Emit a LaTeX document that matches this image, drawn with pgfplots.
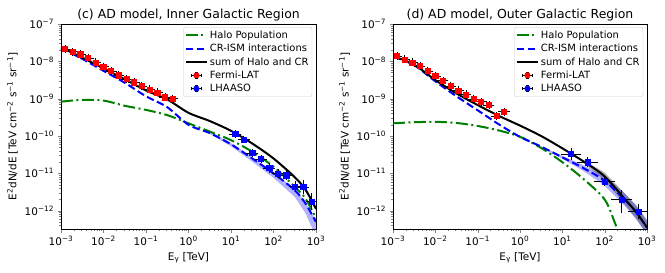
\documentclass[border=0pt]{standalone}
\usepackage{fontspec}
\setmainfont{DejaVu Sans}
\usepackage{pgfplots}
\pgfplotsset{compat=1.18}

\pgfplotstableread{
E F xp xm yp ym
1.230e-3 2.14e-8 0.23 0.19 0.15 0.13
1.866e-3 1.82e-8 0.23 0.19 0.15 0.13
2.831e-3 1.55e-8 0.23 0.19 0.15 0.13
4.295e-3 1.23e-8 0.23 0.19 0.15 0.13
6.516e-3 9.33e-9 0.23 0.19 0.15 0.13
9.886e-3 7.24e-9 0.23 0.19 0.15 0.13
1.500e-2 5.50e-9 0.23 0.19 0.15 0.13
2.275e-2 4.27e-9 0.23 0.19 0.15 0.13
3.451e-2 3.39e-9 0.23 0.19 0.15 0.13
5.236e-2 2.75e-9 0.23 0.19 0.15 0.13
7.943e-2 2.19e-9 0.23 0.19 0.15 0.13
1.205e-1 1.78e-9 0.23 0.19 0.15 0.13
1.828e-1 1.48e-9 0.23 0.19 0.15 0.13
2.773e-1 1.10e-9 0.23 0.19 0.15 0.13
4.207e-1 1.00e-9 0.23 0.19 0.15 0.13
}\fermiL
\pgfplotstableread{
E F xp xm yp ym
1.230e-3 1.39e-8 0.23 0.19 0.15 0.13
1.866e-3 1.13e-8 0.23 0.19 0.15 0.13
2.831e-3 9.42e-9 0.23 0.19 0.15 0.13
4.295e-3 7.50e-9 0.23 0.19 0.15 0.13
6.516e-3 5.51e-9 0.23 0.19 0.15 0.13
9.886e-3 4.05e-9 0.23 0.19 0.15 0.13
1.500e-2 3.03e-9 0.23 0.19 0.15 0.13
2.275e-2 2.19e-9 0.23 0.19 0.15 0.13
3.451e-2 1.67e-9 0.23 0.19 0.15 0.13
5.236e-2 1.31e-9 0.23 0.19 0.15 0.13
7.943e-2 9.79e-10 0.23 0.19 0.15 0.13
1.205e-1 8.30e-10 0.23 0.19 0.15 0.13
1.828e-1 6.78e-10 0.23 0.19 0.15 0.13
2.773e-1 3.44e-10 0.23 0.19 0.15 0.13
4.207e-1 4.48e-10 0.23 0.19 0.15 0.13
}\fermiR
\pgfplotstableread{
E F xp xm yp ym
12.59 1.13e-10 0.26 0.21 0.15 0.13
19.95 8.10e-11 0.26 0.21 0.12 0.10
31.62 3.50e-11 0.26 0.21 0.15 0.13
50.12 2.45e-11 0.26 0.21 0.15 0.13
79.43 1.41e-11 0.26 0.21 0.20 0.17
125.9 1.00e-11 0.26 0.21 0.20 0.17
199.5 8.90e-12 0.26 0.21 0.20 0.17
316.2 4.40e-12 0.26 0.21 0.25 0.20
501.2 4.30e-12 0.26 0.21 0.35 0.26
794.3 1.78e-12 0.26 0.21 0.50 0.35
}\lhaasoL
\pgfplotstableread{
E F xp xm yp ym
15.85 3.30e-11 0.585 0.369 0.28 0.22
39.81 2.00e-11 0.585 0.369 0.20 0.15
100.0 6.00e-12 0.585 0.369 0.20 0.15
251.2 2.00e-12 0.585 0.369 0.63 0.50
631.0 9.50e-13 0.585 0.369 0.45 0.30
}\lhaasoR

\definecolor{mgreen}{RGB}{0,128,0}
\definecolor{mblue}{RGB}{0,0,255}

\pgfplotsset{
  myline/.style={legend image code/.code={\draw[##1] (0cm,0cm) -- (0.74cm,0cm);}},
  myhalo/.style={myline, mgreen, line width=2bp, dash pattern=on 12bp off 3.5bp on 2bp off 3.5bp, smooth},
  mycr/.style={myline, mblue, line width=2bp, dash pattern=on 7.5bp off 3.5bp, smooth},
  mysum/.style={myline, black, line width=2bp, smooth},
  myerr/.style={only marks, mark=square*, mark size=2.6bp,
    error bars/x dir=both, error bars/x explicit relative,
    error bars/y dir=both, error bars/y explicit relative,
    error bars/error bar style={black, line width=0.5bp},
    error bars/error mark options={black, mark size=1.8bp, line width=0.5bp}},
  myleg/.style={legend image code/.code={
    \draw[black, line width=0.5bp] (0.2cm,0cm) -- (0.54cm,0cm);
    \draw[black, line width=0.5bp] (0.37cm,-0.11cm) -- (0.37cm,0.11cm);
    \draw[black, line width=0.5bp] (0.31cm,0.11cm) -- (0.43cm,0.11cm) (0.31cm,-0.11cm) -- (0.43cm,-0.11cm) (0.2cm,-0.06cm) -- (0.2cm,0.06cm) (0.54cm,-0.06cm) -- (0.54cm,0.06cm);
    \fill[#1] (0.37cm,0cm) +(-2.6bp,-2.6bp) rectangle +(2.6bp,2.6bp);}},
}

\begin{document}
\begin{tikzpicture}
\useasboundingbox (0,0) rectangle (665bp,273bp);

% ---------------- left panel ----------------
\begin{axis}[at={(61bp,44bp)}, anchor=south west,
    xmode=log, ymode=log, scale only axis,
    width=255bp, height=205bp,
    xmin=1e-3, xmax=1e3, ymin=3.24e-13, ymax=1e-7,
    tick align=outside, tick pos=left,
    major tick length=3.5bp, minor tick length=2bp,
    axis line style={line width=0.8bp},
    ticklabel style={font=\fontsize{10.5}{12}\selectfont},
    label style={font=\fontsize{10.5}{12}\selectfont},
    title style={font=\fontsize{12.5}{14}\selectfont, yshift=-7bp},
    xtick={1e-3,1e-2,1e-1,1,10,100,1000},
    xticklabels={10\textsuperscript{−3},10\textsuperscript{−2},10\textsuperscript{−1},10\textsuperscript{0},10\textsuperscript{1},10\textsuperscript{2},10\textsuperscript{3}},
    minor xtick={2e-3,3e-3,4e-3,5e-3,6e-3,7e-3,8e-3,9e-3,2e-2,3e-2,4e-2,5e-2,6e-2,7e-2,8e-2,9e-2,2e-1,3e-1,4e-1,5e-1,6e-1,7e-1,8e-1,9e-1,2,3,4,5,6,7,8,9,20,30,40,50,60,70,80,90,200,300,400,500,600,700,800,900},
    ytick={1e-12,1e-11,1e-10,1e-9,1e-8,1e-7},
    yticklabels={10\textsuperscript{−12},10\textsuperscript{−11},10\textsuperscript{−10},10\textsuperscript{−9},10\textsuperscript{−8},10\textsuperscript{−7}},
    minor ytick={4e-13,5e-13,6e-13,7e-13,8e-13,9e-13,2e-12,3e-12,4e-12,5e-12,6e-12,7e-12,8e-12,9e-12,2e-11,3e-11,4e-11,5e-11,6e-11,7e-11,8e-11,9e-11,2e-10,3e-10,4e-10,5e-10,6e-10,7e-10,8e-10,9e-10,2e-9,3e-9,4e-9,5e-9,6e-9,7e-9,8e-9,9e-9,2e-8,3e-8,4e-8,5e-8,6e-8,7e-8,8e-8,9e-8},
    xlabel={E\textsubscript{γ} [TeV]},
    ylabel={E\textsuperscript{2}dN/dE [TeV cm\textsuperscript{−2} s\textsuperscript{−1} sr\textsuperscript{−1}]},
    legend cell align=left,
    legend style={at={(0.985,0.985)}, anchor=north east,
      font=\fontsize{10}{12}\selectfont, draw=black!20, rounded corners=2bp,
      fill=white, row sep=0.3bp, inner sep=1.5bp},
  title={(c) AD model, Inner Galactic Region}]
\addplot[fill=mblue, fill opacity=0.3, draw=none, forget plot] coordinates {
(3.162,1.28e-10) (10,6.45e-11) (31.62,2.69e-11) (100,1.07e-11) (316.2,3.80e-12) (562.3,1.69e-12) (1000,5.35e-13)
(1000,2.0e-13) (562.3,8.7e-13) (316.2,2.34e-12) (100,7.6e-12) (31.62,2.06e-11) (10,5.31e-11) (3.162,1.14e-10)} -- cycle;
\addplot[fill=black, fill opacity=0.2, draw=none, forget plot] coordinates {
(100,2.65e-11) (316.2,8.6e-12) (562.3,4.1e-12) (1000,1.28e-12)
(1000,0.98e-12) (562.3,3.3e-12) (316.2,7.2e-12) (100,2.37e-11)} -- cycle;

\addplot[myhalo] coordinates {
(0.001,8.32e-10) (0.003162,9.33e-10) (0.01,8.91e-10) (0.03162,6.46e-10) (0.1,5.01e-10) (0.3162,3.63e-10) (1,2.19e-10) (3.162,1.32e-10) (10,7.76e-11) (31.62,3.80e-11) (100,1.51e-11) (316.2,4.37e-12) (562.3,2.14e-12) (1000,6.31e-13)};
\addlegendentry{Halo Population}
\addplot[mycr] coordinates {
(0.001,2.29e-8) (0.003162,1.167e-8) (0.01,5.57e-9) (0.03162,2.67e-9) (0.1,1.161e-9) (0.3162,5.92e-10) (1,2.0e-10) (3.162,1.20e-10) (10,6.03e-11) (31.62,2.51e-11) (100,1.0e-11) (316.2,3.55e-12) (562.3,1.58e-12) (1000,5.0e-13)};
\addlegendentry{CR-ISM interactions}
\addplot[mysum] coordinates {
(0.001,2.373e-8) (0.003162,1.260e-8) (0.01,6.46e-9) (0.03162,3.32e-9) (0.1,1.662e-9) (0.3162,9.55e-10) (1,4.19e-10) (3.162,2.52e-10) (10,1.379e-10) (31.62,6.31e-11) (100,2.51e-11) (316.2,7.92e-12) (562.3,3.72e-12) (1000,1.131e-12)};
\addlegendentry{sum of Halo and CR}
\addplot[myleg=red, myerr, mark options={fill=red, draw=red}]
  table[x=E, y=F, x error plus=xp, x error minus=xm, y error plus=yp, y error minus=ym] {\fermiL};
\addlegendentry{Fermi-LAT}
\addplot[myleg=mblue, myerr, mark options={fill=mblue, draw=mblue}]
  table[x=E, y=F, x error plus=xp, x error minus=xm, y error plus=yp, y error minus=ym] {\lhaasoL};
\addlegendentry{LHAASO}
\end{axis}

% ---------------- right panel ----------------
\begin{axis}[at={(393bp,44bp)}, anchor=south west,
    xmode=log, ymode=log, scale only axis,
    width=254bp, height=205bp,
    xmin=1e-3, xmax=1e3, ymin=3.24e-13, ymax=1e-7,
    tick align=outside, tick pos=left,
    major tick length=3.5bp, minor tick length=2bp,
    axis line style={line width=0.8bp},
    ticklabel style={font=\fontsize{10.5}{12}\selectfont},
    label style={font=\fontsize{10.5}{12}\selectfont},
    title style={font=\fontsize{12.5}{14}\selectfont, yshift=-7bp},
    xtick={1e-3,1e-2,1e-1,1,10,100,1000},
    xticklabels={10\textsuperscript{−3},10\textsuperscript{−2},10\textsuperscript{−1},10\textsuperscript{0},10\textsuperscript{1},10\textsuperscript{2},10\textsuperscript{3}},
    minor xtick={2e-3,3e-3,4e-3,5e-3,6e-3,7e-3,8e-3,9e-3,2e-2,3e-2,4e-2,5e-2,6e-2,7e-2,8e-2,9e-2,2e-1,3e-1,4e-1,5e-1,6e-1,7e-1,8e-1,9e-1,2,3,4,5,6,7,8,9,20,30,40,50,60,70,80,90,200,300,400,500,600,700,800,900},
    ytick={1e-12,1e-11,1e-10,1e-9,1e-8,1e-7},
    yticklabels={10\textsuperscript{−12},10\textsuperscript{−11},10\textsuperscript{−10},10\textsuperscript{−9},10\textsuperscript{−8},10\textsuperscript{−7}},
    minor ytick={4e-13,5e-13,6e-13,7e-13,8e-13,9e-13,2e-12,3e-12,4e-12,5e-12,6e-12,7e-12,8e-12,9e-12,2e-11,3e-11,4e-11,5e-11,6e-11,7e-11,8e-11,9e-11,2e-10,3e-10,4e-10,5e-10,6e-10,7e-10,8e-10,9e-10,2e-9,3e-9,4e-9,5e-9,6e-9,7e-9,8e-9,9e-9,2e-8,3e-8,4e-8,5e-8,6e-8,7e-8,8e-8,9e-8},
    xlabel={E\textsubscript{γ} [TeV]},
    ylabel={E\textsuperscript{2}dN/dE [TeV cm\textsuperscript{−2} s\textsuperscript{−1} sr\textsuperscript{−1}]},
    legend cell align=left,
    legend style={at={(0.985,0.985)}, anchor=north east,
      font=\fontsize{10}{12}\selectfont, draw=black!20, rounded corners=2bp,
      fill=white, row sep=0.3bp, inner sep=1.5bp},
  title={(d) AD model, Outer Galactic Region}]
\addplot[fill=mblue, fill opacity=0.3, draw=none, forget plot] coordinates {
(3.162,5.31e-11) (10,2.95e-11) (31.62,1.66e-11) (100,8.51e-12) (316.2,2.75e-12) (562.3,1.38e-12) (1000,5.63e-13)
(1000,2.24e-13) (562.3,5.75e-13) (316.2,1.26e-12) (100,4.68e-12) (31.62,1.15e-11) (10,2.45e-11) (3.162,5.11e-11)} -- cycle;
\addplot[fill=black, fill opacity=0.3, draw=none, forget plot] coordinates {
(31.62,2.29e-11) (100,1.05e-11) (316.2,2.70e-12) (562.3,1.33e-12) (1000,5.39e-13)
(1000,2.35e-13) (562.3,6.09e-13) (316.2,1.35e-12) (100,6.60e-12) (31.62,1.91e-11)} -- cycle;

\addplot[myhalo] coordinates {
(0.001,2.19e-10) (0.003162,2.34e-10) (0.01,2.40e-10) (0.03162,2.24e-10) (0.1,1.86e-10) (0.3162,1.41e-10) (1,9.55e-11) (3.162,4.79e-11) (10,2.0e-11) (31.62,7.08e-12) (100,2.0e-12) (177.8,4.47e-13) (251.2,1.58e-13)};
\addlegendentry{Halo Population}
\addplot[mycr] coordinates {
(0.001,1.358e-8) (0.003162,7.89e-9) (0.01,2.92e-9) (0.03162,1.156e-9) (0.1,4.90e-10) (0.3162,2.06e-10) (1,9.5e-11) (3.162,5.21e-11) (10,2.69e-11) (31.62,1.38e-11) (100,6.31e-12) (316.2,1.86e-12) (562.3,8.91e-13) (1000,3.55e-13)};
\addlegendentry{CR-ISM interactions}
\addplot[mysum] coordinates {
(0.001,1.380e-8) (0.003162,8.12e-9) (0.01,3.16e-9) (0.03162,1.380e-9) (0.1,6.76e-10) (0.3162,3.47e-10) (1,1.905e-10) (3.162,1.0e-10) (10,4.69e-11) (31.62,2.09e-11) (100,8.31e-12) (316.2,1.91e-12) (562.3,9.0e-13) (1000,3.56e-13)};
\addlegendentry{sum of Halo and CR}
\addplot[myleg=red, myerr, mark options={fill=red, draw=red}]
  table[x=E, y=F, x error plus=xp, x error minus=xm, y error plus=yp, y error minus=ym] {\fermiR};
\addlegendentry{Fermi-LAT}
\addplot[myleg=mblue, myerr, mark options={fill=mblue, draw=mblue}]
  table[x=E, y=F, x error plus=xp, x error minus=xm, y error plus=yp, y error minus=ym] {\lhaasoR};
\addlegendentry{LHAASO}
\end{axis}
\end{tikzpicture}
\end{document}
